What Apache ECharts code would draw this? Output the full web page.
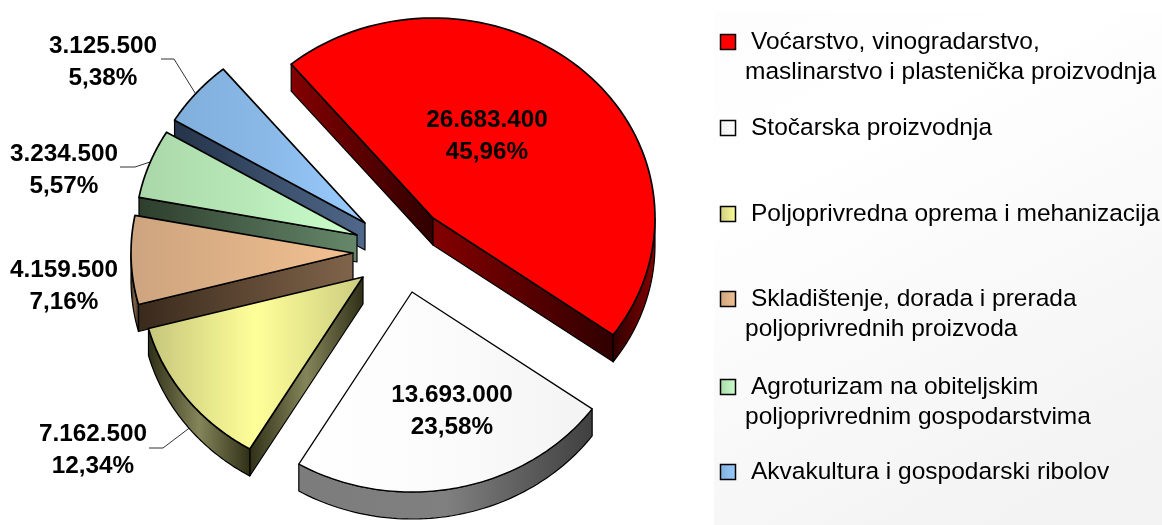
<!DOCTYPE html>
<html><head><meta charset="utf-8">
<style>html,body{margin:0;padding:0;background:#fff}#c{width:1162px;height:525px}</style>
<script src="https://cdn.jsdelivr.net/npm/echarts@6/dist/echarts.min.js"></script>
</head><body><div id="c"></div>
<script>
const categories = [
  ['Voćarstvo, vinogradarstvo,', 'maslinarstvo i plastenička proizvodnja'],
  ['Stočarska proizvodnja'],
  ['Poljoprivredna oprema i mehanizacija'],
  ['Skladištenje, dorada i prerada', 'poljoprivrednih proizvoda'],
  ['Agroturizam na obiteljskim', 'poljoprivrednim gospodarstvima'],
  ['Akvakultura i gospodarski ribolov']
];
const values = [26683400, 13693000, 7162500, 4159500, 3234500, 3125500];
const valueLabels = ['26.683.400', '13.693.000', '7.162.500', '4.159.500', '3.234.500', '3.125.500'];
const percentLabels = ['45,96%', '23,58%', '12,34%', '7,16%', '5,57%', '5,38%'];

// layout of the exploded slices (apex of every slice) and pie shape
const apex = [[433,218],[412,292],[363,277],[353,253],[357,235],[365,223]];
const RX = 222, RY = 200, DEPTH = 27, START_DEG = -39.7;
const labelPos = [[487,134],[452,409],[93,448],[64,284],[64,168],[103,60]];
const leaders = [null, null,
  [[149,448],[163,448],[192,426]], null,
  [[120,167],[135,167],[150,162]],
  [[161,59],[174,59],[197,96]]];
const drawRank = [0, 1, 5, 4, 3, 2];
const topStops = [
  ['#ff0000','#ff0000','#ff0000'], ['#ffffff','#fbfbfb','#f3f3f3'], ['#c6c67c','#ffff99','#cccc80'],
  ['#cda47f','#dfb287','#f2c192'], ['#a9d7a9','#b8e8b8','#ccffcc'], ['#80afdc','#8ab9e8','#99ccff']
];
const wallDark = ['#300000','#404040','#303018','#3a2a1c','#2d3e2d','#24344a'];
const wallLight = ['#840000','#808080','#85855a','#80644a','#66886a','#50688a'];
const legendY = [[50,80],[136],[222],[307,337],[395,425],[480]];
const legendFont = '24.5px "Liberation Sans", Arial, sans-serif';
const labelFont = 'bold 24.3px "Liberation Sans", Arial, sans-serif';

const total = values.reduce((a,b)=>a+b,0);
const RAD = Math.PI/180;
const starts = []; { let a = START_DEG; values.forEach(v=>{ starts.push(a); a += v/total*360; }); starts.push(a); }
const pt = (c,deg,dz=0)=>[c[0]+RX*Math.sin(deg*RAD), c[1]-RY*Math.cos(deg*RAD)+dz];
function grad(x0,x1,stops){
  return {type:'linear',x:x0,y:0,x2:x1,y2:0,global:true,
    colorStops:stops.map((c,i)=>({offset:i/(stops.length-1),color:c}))};
}
function poly(points,fill,z2,lw){
  return {type:'polygon',z2,shape:{points},style:{fill,stroke:'#000',lineWidth:lw,lineJoin:'round'}};
}
function wallPoly(a,b){ return a.concat(b.map(p=>[p[0],p[1]+DEPTH]).reverse()); }

function renderSlice(params){
  const i = params.dataIndex, c = apex[i], a0 = starts[i], a1 = starts[i+1], z = drawRank[i]*10;
  const kids = [];
  const arc = [];
  for (let k=0;k<=80;k++) arc.push(pt(c,a0+(a1-a0)*k/80));
  const dark = wallDark[i], light = wallLight[i];
  const p0 = pt(c,a0), p1 = pt(c,a1);
  const wallFill = (xa,xb)=> i===0||i>=3 ? grad(Math.min(xa,xb),Math.max(xa,xb),[i===0?light:dark,i===0?dark:light])
                                         : grad(Math.min(xa,xb),Math.max(xa,xb),[dark,light,dark]);
  if (p0[0] < c[0]) kids.push(poly([c,p0,[p0[0],p0[1]+DEPTH],[c[0],c[1]+DEPTH]],wallFill(p0[0],c[0]),z+1,1.2));
  if (c[0] < p1[0]) kids.push(poly([p1,c,[c[0],c[1]+DEPTH],[p1[0],p1[1]+DEPTH]],wallFill(c[0],p1[0]),z+1,1.2));
  // outer wall: only the part of the rim that faces the viewer
  const w0 = Math.max(a0,90), w1 = Math.min(a1,270);
  if (w1 > w0) {
    const rim = [];
    for (let k=0;k<=60;k++) rim.push(pt(c,w0+(w1-w0)*k/60));
    const xs = rim.map(p=>p[0]), lo = Math.min(...xs), hi = Math.max(...xs);
    const stops = i===0 ? [dark,light] : (i===1 ? ['#7c7c7c','#808080','#404040'] : [dark,light,dark]);
    kids.push(poly(wallPoly(rim,rim),grad(lo,hi,stops),z+2,1.2));
  }
  // top face
  const xs = [c[0]].concat(arc.map(p=>p[0]));
  kids.push(poly([c].concat(arc),grad(Math.min(...xs),Math.max(...xs),topStops[i]),z+3,i===1?1.3:1.7));
  // leader, under the slices
  if (leaders[i]) kids.push({type:'polyline',z2:-1,shape:{points:leaders[i]},style:{fill:'none',stroke:'#333',lineWidth:1}});
  // labels
  const lp = labelPos[i];
  [[valueLabels[i],lp[0],lp[1]-14],[percentLabels[i],lp[0],lp[1]+18]].forEach(t=>{
    kids.push({type:'text',z2:101,style:{text:t[0],x:t[1],y:t[2],fill:'#000',font:labelFont,align:'center',verticalAlign:'middle'}});
  });
  return {type:'group',children:kids};
}

const legendColors = [['#ff0000','#ff0000'],['#ffffff','#f0f0f0'],['#ffff99','#cccc80'],['#f2c192','#cda47f'],['#ccffcc','#a9d7a9'],['#99ccff','#80afdc']];
const graphic = [{type:'rect',z:-1,shape:{x:714,y:12,width:448,height:513},silent:true,
  style:{fill:{type:'linear',x:0,y:0,x2:0.6,y2:1,colorStops:[{offset:0,color:'#fdfdfd'},{offset:.3,color:'#ffffff'},{offset:1,color:'#f3f3f3'}]}}}];
categories.forEach((lines,i)=>{
  const y = legendY[i];
  graphic.push({type:'rect',shape:{x:720.5,y:y[0]-15.5,width:15,height:15},
    style:{fill:{type:'linear',x:0,y:0,x2:1,y2:0,colorStops:[{offset:0,color:legendColors[i][1]},{offset:1,color:legendColors[i][0]}]},stroke:'#000',lineWidth:1.5}});
  lines.forEach((t,k)=>{
    graphic.push({type:'text',style:{text:t,x:k===0?751:745,y:y[k]-8,fill:'#000',font:legendFont,align:'left',verticalAlign:'middle'}});
  });
});

const chart = echarts.init(document.getElementById('c'),null,{renderer:'canvas'});
chart.setOption({
  animation:false,
  backgroundColor:'#fff',
  graphic,
  series:[{type:'custom',coordinateSystem:'none',silent:true,clip:false,renderItem:renderSlice,
    data:values.map((v,i)=>({name:categories[i].join(' '),value:v}))}]
});
</script></body></html>
